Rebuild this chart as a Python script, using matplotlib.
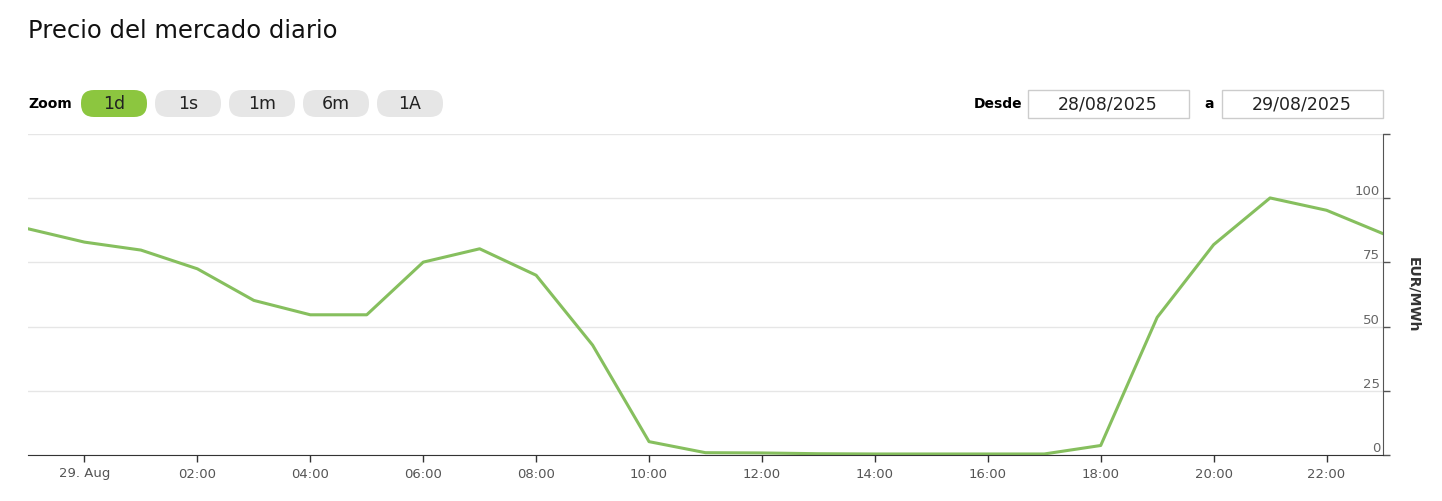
import numpy as np
import pandas as pd
import matplotlib
matplotlib.use("Agg")
import matplotlib.pyplot as plt
import matplotlib.dates as mdates
from matplotlib.patches import FancyBboxPatch, Rectangle

# precio horario (EUR/MWh), 28/08 23:00 -> 29/08 23:00
hours = pd.date_range("2025-08-28 23:00", "2025-08-29 23:00", freq="h")
prices = [88.1, 82.9, 79.8, 72.5, 60.2, 54.6, 54.6, 75.1, 80.3, 70.0,
          42.8, 5.2, 0.9, 0.8, 0.5, 0.4, 0.4, 0.4, 0.4, 3.7,
          53.6, 81.9, 100.1, 95.3, 86.2]

y_ticks = [0, 25, 50, 75, 100, 125]
y_labels = ["0", "25", "50", "75", "100", ""]
zoom_buttons = ["1d", "1s", "1m", "6m", "1A"]
date_from = "28/08/2025"
date_to = "29/08/2025"

W, H = 1442, 501
LINE = "#86bf5e"
GREEN = "#8cc63f"

fig = plt.figure(figsize=(W / 100, H / 100), dpi=100)
ax = fig.add_axes([28 / W, (H - 455) / H, (1383 - 28) / W, (455 - 134) / H])

ax.plot(hours, prices, color=LINE, lw=2.2, solid_joinstyle="round")

ax.set_xlim(hours[0], hours[-1])
ax.set_ylim(0, 125)

# eje y a la derecha, etiquetas dentro del área
ax.yaxis.tick_right()
ax.set_yticks(y_ticks)
ax.set_yticklabels(y_labels)
ax.tick_params(axis="y", direction="out", length=5, width=1, color="#555555",
               labelsize=9.5, labelcolor="#666666", pad=-7)
for lbl in ax.get_yticklabels():
    lbl.set_ha("right")
    lbl.set_va("bottom")
ax.yaxis.set_label_position("right")
ax.set_ylabel("EUR/MWh", rotation=270, fontsize=10, fontweight="bold",
              color="#333333", labelpad=22)

ax.xaxis.set_major_locator(mdates.HourLocator(byhour=range(0, 24, 2)))


def fmt(x, pos):
    d = mdates.num2date(x)
    if d.hour == 0:
        return d.strftime("%d. %b")
    return d.strftime("%H:%M")


ax.xaxis.set_major_formatter(plt.FuncFormatter(fmt))
ax.tick_params(axis="x", direction="out", length=5, width=1, color="#333333",
               labelsize=9.5, labelcolor="#555555", pad=4)

ax.grid(axis="y", color="#e6e6e6", lw=1)
ax.set_axisbelow(True)
for s in ["top", "left"]:
    ax.spines[s].set_visible(False)
ax.spines["bottom"].set_color("#333333")
ax.spines["right"].set_color("#555555")

# cabecera: título, botones de zoom y fechas
ui = fig.add_axes([0, 0, 1, 1])
ui.set_xlim(0, W)
ui.set_ylim(H, 0)
ui.axis("off")

ui.text(28, 31, "Precio del mercado diario", fontsize=17.5, color="#111111",
        va="center", ha="left")
ui.text(28, 104, "Zoom", fontsize=10, fontweight="bold", va="center", ha="left")

bx = 81
for i, b in enumerate(zoom_buttons):
    fc = GREEN if i == 0 else "#e6e6e6"
    ui.add_patch(FancyBboxPatch((bx, 90), 66, 27,
                                boxstyle="round,pad=0,rounding_size=13",
                                fc=fc, ec="none"))
    ui.text(bx + 33, 104, b, fontsize=12.5, color="#222222",
            ha="center", va="center")
    bx += 74

ui.text(974, 104, "Desde", fontsize=10, fontweight="bold", va="center", ha="left")
ui.add_patch(Rectangle((1028, 90), 161, 28, fc="white", ec="#cccccc", lw=1))
ui.text(1108, 104, date_from, fontsize=12.5, color="#222222",
        ha="center", va="center")
ui.text(1204, 104, "a", fontsize=10, fontweight="bold", va="center", ha="left")
ui.add_patch(Rectangle((1222, 90), 161, 28, fc="white", ec="#cccccc", lw=1))
ui.text(1302, 104, date_to, fontsize=12.5, color="#222222",
        ha="center", va="center")

fig.savefig("out.png", dpi=100)
